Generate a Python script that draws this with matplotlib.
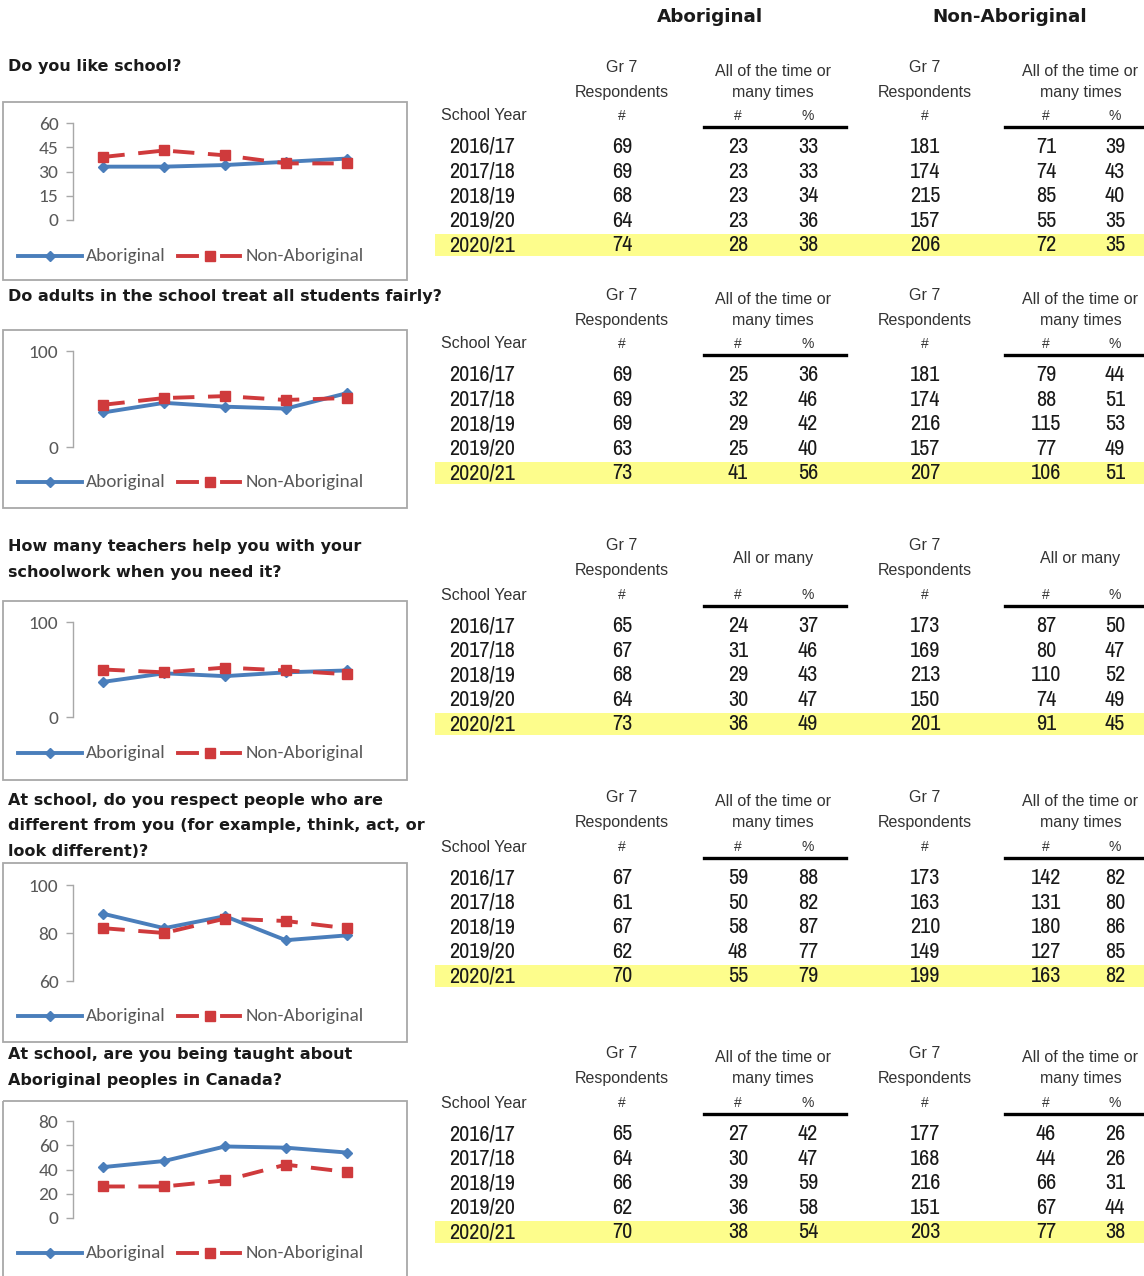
import matplotlib
matplotlib.use("Agg")
import logging
logging.getLogger("matplotlib.font_manager").setLevel(logging.ERROR)
import matplotlib.pyplot as plt
from matplotlib.patches import Rectangle
from matplotlib.lines import Line2D

# ---------------- data ----------------
years = ["2016/17", "2017/18", "2018/19", "2019/20", "2020/21"]

q1_title = ["Do you like school?"]
q1_ab_resp = [69, 69, 68, 64, 74]
q1_ab_n = [23, 23, 23, 23, 28]
q1_ab_pct = [33, 33, 34, 36, 38]
q1_non_resp = [181, 174, 215, 157, 206]
q1_non_n = [71, 74, 85, 55, 72]
q1_non_pct = [39, 43, 40, 35, 35]
q1_yticks = [0, 15, 30, 45, 60]

q2_title = ["Do adults in the school treat all students fairly?"]
q2_ab_resp = [69, 69, 69, 63, 73]
q2_ab_n = [25, 32, 29, 25, 41]
q2_ab_pct = [36, 46, 42, 40, 56]
q2_non_resp = [181, 174, 216, 157, 207]
q2_non_n = [79, 88, 115, 77, 106]
q2_non_pct = [44, 51, 53, 49, 51]
q2_yticks = [0, 100]

q3_title = ["How many teachers help you with your", "schoolwork when you need it?"]
q3_ab_resp = [65, 67, 68, 64, 73]
q3_ab_n = [24, 31, 29, 30, 36]
q3_ab_pct = [37, 46, 43, 47, 49]
q3_non_resp = [173, 169, 213, 150, 201]
q3_non_n = [87, 80, 110, 74, 91]
q3_non_pct = [50, 47, 52, 49, 45]
q3_yticks = [0, 100]

q4_title = ["At school, do you respect people who are",
            "different from you (for example, think, act, or",
            "look different)?"]
q4_ab_resp = [67, 61, 67, 62, 70]
q4_ab_n = [59, 50, 58, 48, 55]
q4_ab_pct = [88, 82, 87, 77, 79]
q4_non_resp = [173, 163, 210, 149, 199]
q4_non_n = [142, 131, 180, 127, 163]
q4_non_pct = [82, 80, 86, 85, 82]
q4_yticks = [60, 80, 100]

q5_title = ["At school, are you being taught about", "Aboriginal peoples in Canada?"]
q5_ab_resp = [65, 64, 66, 62, 70]
q5_ab_n = [27, 30, 39, 36, 38]
q5_ab_pct = [42, 47, 59, 58, 54]
q5_non_resp = [177, 168, 216, 151, 203]
q5_non_n = [46, 44, 66, 67, 77]
q5_non_pct = [26, 26, 31, 44, 38]
q5_yticks = [0, 20, 40, 60, 80]

group_labels = ["Aboriginal", "Non-Aboriginal"]
hdr_full = ["All of the time or", "many times"]
hdr_short = ["All or many"]

# ---------------- layout ----------------
W, H = 1144, 1276
fig = plt.figure(figsize=(W / 100, H / 100), dpi=100)
bg = fig.add_axes([0, 0, 1, 1])
bg.set_xlim(0, W)
bg.set_ylim(H, 0)
bg.axis("off")

BLUE = "#4a7ebb"
RED = "#cf3a3c"
TXT = "#1a1a1a"
GRAYTXT = "#595959"
BOX = "#a8a8a8"
YELLOW = "#fdfd8c"

TITLE_FONT = ["DejaVu Sans"]
TABLE_FONT = ["Archivo Narrow", "Liberation Sans", "DejaVu Sans"]
HDR_FONT = ["Liberation Sans", "DejaVu Sans"]
CHART_FONT = ["Carlito", "Lato", "DejaVu Sans"]

bg.text(710, 17, group_labels[0], ha="center", va="center", fontsize=13.2,
        fontweight="bold", family=TITLE_FONT, color=TXT)
bg.text(1010, 17, group_labels[1], ha="center", va="center", fontsize=13.2,
        fontweight="bold", family=TITLE_FONT, color=TXT)

sections = [
    dict(title=q1_title, title_y=67, box=(102, 280), axy=(123, 220), leg=256, row0=147,
         hdr=hdr_full, ab=(q1_ab_resp, q1_ab_n, q1_ab_pct),
         non=(q1_non_resp, q1_non_n, q1_non_pct), yt=q1_yticks),
    dict(title=q2_title, title_y=296, box=(330, 508), axy=(351, 447), leg=482, row0=375,
         hdr=hdr_full, ab=(q2_ab_resp, q2_ab_n, q2_ab_pct),
         non=(q2_non_resp, q2_non_n, q2_non_pct), yt=q2_yticks),
    dict(title=q3_title, title_y=547, box=(601, 780), axy=(622, 717), leg=753, row0=626,
         hdr=hdr_short, ab=(q3_ab_resp, q3_ab_n, q3_ab_pct),
         non=(q3_non_resp, q3_non_n, q3_non_pct), yt=q3_yticks),
    dict(title=q4_title, title_y=800, box=(863, 1042), axy=(885, 981), leg=1016, row0=878,
         hdr=hdr_full, ab=(q4_ab_resp, q4_ab_n, q4_ab_pct),
         non=(q4_non_resp, q4_non_n, q4_non_pct), yt=q4_yticks),
    dict(title=q5_title, title_y=1055, box=(1101, 1300), axy=(1121, 1218), leg=1253, row0=1134,
         hdr=hdr_full, ab=(q5_ab_resp, q5_ab_n, q5_ab_pct),
         non=(q5_non_resp, q5_non_n, q5_non_pct), yt=q5_yticks),
]

ROW_DY = 24.6
AX_L, AX_R = 73, 377
COLS = dict(year=449, resp_ab=622, n_ab=738, p_ab=808, resp_non=925, n_non=1046, p_non=1115)

for s in sections:
    # question title
    for i, line in enumerate(s["title"]):
        bg.text(8, s["title_y"] + i * 25.5, line, ha="left", va="center", fontsize=11.5,
                fontweight="bold", family=TITLE_FONT, color=TXT)
    # chart frame
    b0, b1 = s["box"]
    bg.add_patch(Rectangle((3, b0), 404, b1 - b0, fill=False, ec=BOX, lw=1.3))
    # chart axes
    y0, y1 = s["axy"]
    ax = fig.add_axes([AX_L / W, 1 - y1 / H, (AX_R - AX_L) / W, (y1 - y0) / H])
    ax.patch.set_alpha(0)
    ax.set_xlim(-0.5, len(years) - 0.5)
    ax.set_ylim(s["yt"][0], s["yt"][-1])
    for sp in ["top", "right", "bottom"]:
        ax.spines[sp].set_visible(False)
    ax.spines["left"].set_color(BOX)
    ax.spines["left"].set_linewidth(1.0)
    ax.set_xticks([])
    ax.set_yticks(s["yt"])
    ax.tick_params(axis="y", length=5, width=1, color=BOX, labelcolor=GRAYTXT,
                   labelsize=14, pad=5.5)
    for lab in ax.get_yticklabels():
        lab.set_family(CHART_FONT)
    xs = list(range(len(years)))
    ax.plot(xs, s["ab"][2], color=BLUE, lw=2.8, marker="D", ms=5.5, clip_on=False, zorder=3)
    ax.plot(xs, s["non"][2], color=RED, lw=2.8, marker="s", ms=7.5, clip_on=False,
            dashes=(5.5, 3.5), zorder=4)
    # legend (manual sample glyphs)
    ly = s["leg"]
    bg.add_line(Line2D([18, 82], [ly, ly], color=BLUE, lw=2.8))
    bg.add_line(Line2D([50], [ly], color=BLUE, marker="D", ms=5.5))
    bg.text(86, ly, group_labels[0], ha="left", va="center", fontsize=13.8,
            family=CHART_FONT, color=GRAYTXT)
    bg.add_line(Line2D([178, 197], [ly, ly], color=RED, lw=2.8))
    bg.add_line(Line2D([222, 240], [ly, ly], color=RED, lw=2.8))
    bg.add_line(Line2D([210], [ly], color=RED, marker="s", ms=7.5))
    bg.text(246, ly, group_labels[1], ha="left", va="center", fontsize=13.8,
            family=CHART_FONT, color=GRAYTXT)

    # table header
    r0 = s["row0"]
    hkw = dict(ha="center", va="center", fontsize=11.5, family=HDR_FONT, color="#333333")
    skw = dict(hkw, fontsize=10)
    for cx in (COLS["resp_ab"], COLS["resp_non"]):
        bg.text(cx, r0 - 80, "Gr 7", **hkw)
        bg.text(cx, r0 - 55, "Respondents", **hkw)
        bg.text(cx, r0 - 31, "#", **skw)
    for cn, cp in ((COLS["n_ab"], COLS["p_ab"]), (COLS["n_non"], COLS["p_non"])):
        mid = (cn + cp) / 2
        if len(s["hdr"]) == 2:
            bg.text(mid, r0 - 76, s["hdr"][0], **hkw)
            bg.text(mid, r0 - 55, s["hdr"][1], **hkw)
        else:
            bg.text(mid, r0 - 67, s["hdr"][0], **hkw)
        bg.text(cn, r0 - 31, "#", **skw)
        bg.text(cp, r0 - 31, "%", **skw)
    bg.text(441, r0 - 31, "School Year", ha="left", va="center", fontsize=11.5,
            family=HDR_FONT, color="#333333")
    bg.add_line(Line2D([704, 846], [r0 - 20, r0 - 20], color="black", lw=2.4))
    bg.add_line(Line2D([1005, 1144], [r0 - 20, r0 - 20], color="black", lw=2.4))

    # highlight last row
    last_y = r0 + ROW_DY * (len(years) - 1)
    bg.add_patch(Rectangle((435, last_y - 11), W - 435, 22, color=YELLOW, lw=0, zorder=0))

    # table rows
    dkw = dict(ha="center", va="center", fontsize=16, family=TABLE_FONT, color=TXT)
    for i, yr in enumerate(years):
        ry = r0 + ROW_DY * i
        bg.text(COLS["year"], ry, yr, ha="left", va="center", fontsize=16,
                family=TABLE_FONT, color=TXT)
        bg.text(COLS["resp_ab"], ry, str(s["ab"][0][i]), **dkw)
        bg.text(COLS["n_ab"], ry, str(s["ab"][1][i]), **dkw)
        bg.text(COLS["p_ab"], ry, str(s["ab"][2][i]), **dkw)
        bg.text(COLS["resp_non"], ry, str(s["non"][0][i]), **dkw)
        bg.text(COLS["n_non"], ry, str(s["non"][1][i]), **dkw)
        bg.text(COLS["p_non"], ry, str(s["non"][2][i]), **dkw)

fig.savefig("out.png", dpi=100)
